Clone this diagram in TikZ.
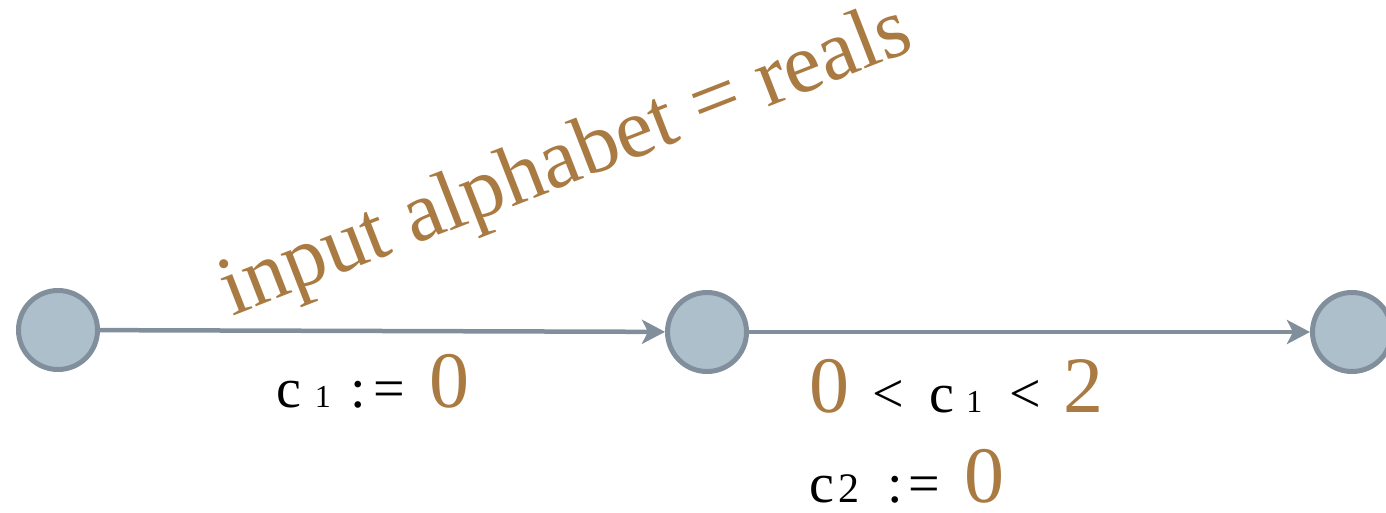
\documentclass[tikz,border=0pt]{standalone}
\usepackage{fontspec}
\setmainfont{Liberation Serif}
\usetikzlibrary{arrows.meta}
\definecolor{brn}{HTML}{A97A42}
\definecolor{stfill}{HTML}{AEBFCC}
\definecolor{stline}{HTML}{818E9B}
\newcommand{\szmid}{\fontsize{28}{28}\selectfont}
\newcommand{\szsub}{\fontsize{16}{16}\selectfont}
\newcommand{\szsubb}{\fontsize{21}{21}\selectfont}
\newcommand{\szbig}{\fontsize{40}{40}\selectfont}
\begin{document}
\begin{tikzpicture}[x=0.5pt,y=-0.5pt,
  state/.style={circle, draw=stline, fill=stfill, line width=2.5pt, minimum size=39.5pt, inner sep=0pt},
  trans/.style={draw=stline, line width=2.25pt, -{Stealth[length=11.5pt,width=12pt,inset=3pt]}},
  lbl/.style={anchor=base west, inner sep=0pt, outer sep=0pt, text=black}]
\useasboundingbox (0,0) rectangle (1386,513);
\node[state] (s0) at (58,330) {};
\node[state] (s1) at (707,332) {};
\node[state] (s2) at (1352,332) {};
\draw[trans] (s0) -- (s1);
\draw[trans] (s1) -- (s2);
\node[lbl, text=brn, rotate=21.3] (alpha) at (232,316) {\fontsize{42.5}{42.5}\selectfont input alphabet = reals};
\node[lbl] (g1) at (276,407) {\szmid c\hspace{7pt}\szsub 1\hspace{10pt}\szmid :\hspace{3.5pt}=\hspace{12.5pt}\textcolor{brn}{\szbig 0}};
\node[lbl] (g2) at (809,412) {\textcolor{brn}{\szbig 0}\hspace{11.5pt}\szmid <\hspace{13pt}c\hspace{6pt}\szsub 1\hspace{13.5pt}\szmid <\hspace{11pt}\textcolor{brn}{\szbig 2}};
\node[lbl] (g3) at (809,502) {\szmid c\hspace{2.5pt}\szsubb 2\hspace{14pt}\szmid :\hspace{2.5pt}=\hspace{12pt}\textcolor{brn}{\szbig 0}};
\end{tikzpicture}
\end{document}
